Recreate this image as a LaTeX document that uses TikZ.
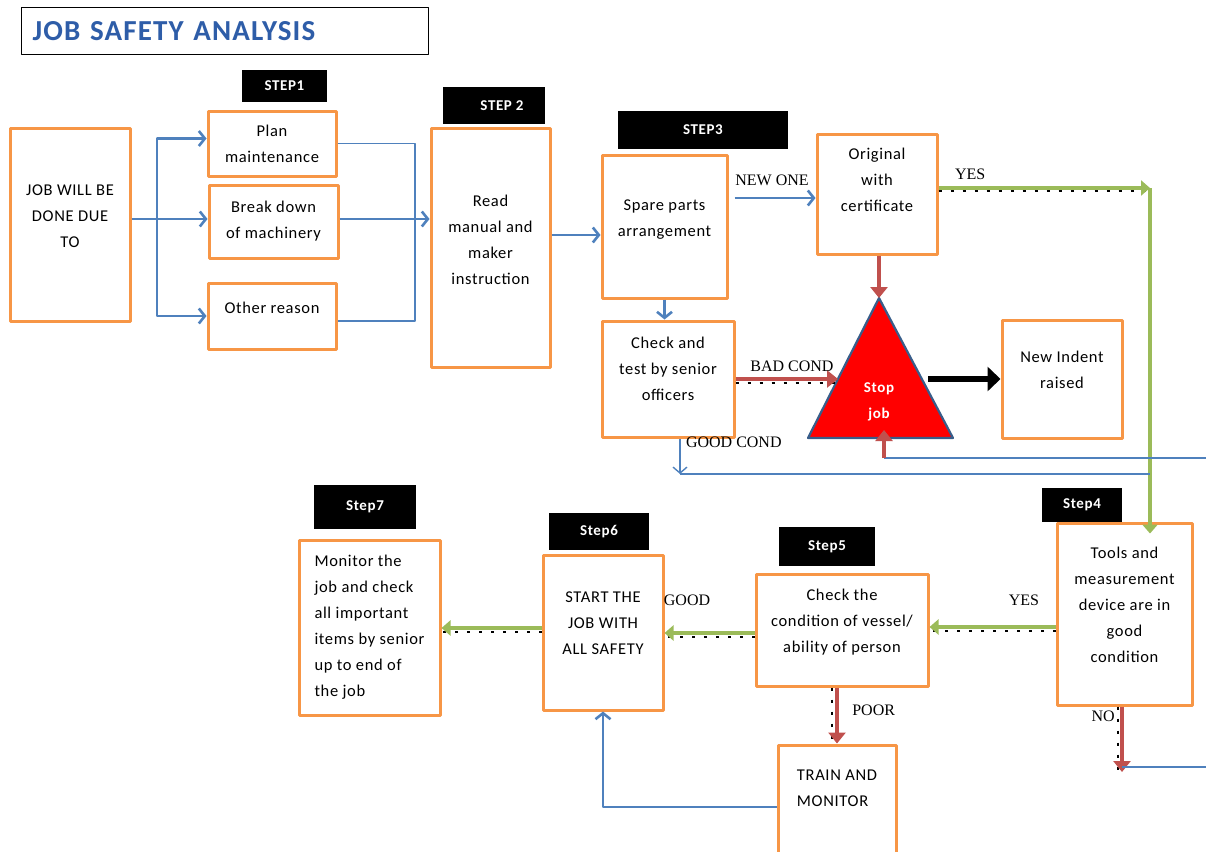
\documentclass[tikz,border=0pt]{standalone}
\usepackage{fontspec}
\setmainfont{Carlito}[LetterSpace=4]
\newfontfamily\lblfont{Liberation Serif}
\usetikzlibrary{arrows.meta}
\definecolor{boxor}{HTML}{F79646}
\definecolor{arblue}{HTML}{4F81BD}
\definecolor{arred}{HTML}{C0504D}
\definecolor{argreen}{HTML}{9BBB59}
\definecolor{triblue}{HTML}{385D8A}
\definecolor{ttlblue}{HTML}{2E5DA8}
\begin{document}
\begin{tikzpicture}[x=1pt,y=-1pt,line join=round,
    box/.style={draw=boxor,line width=3pt,fill=white,align=center,font=\fontsize{16.5}{26}\selectfont},
    tab/.style={fill=black,text=white,font=\bfseries\fontsize{15}{17}\selectfont},
    lbl/.style={font=\lblfont\fontsize{16}{18}\selectfont},
    bl/.style={draw=arblue,line width=2.6pt,-{Straight Barb[length=6pt,width=15pt]}},
    thinl/.style={draw=arblue,line width=1.4pt},
    rd/.style={draw=arred,line width=4pt,-{Triangle[length=11pt,width=17pt]}},
    gr/.style={draw=argreen,line width=4.2pt,-{Triangle[length=9pt,width=15pt]}},
    shd/.style={black,line width=1.8pt,dash pattern=on 3pt off 9pt}]
\useasboundingbox (0,0) rectangle (1206,851);
% title
\node[draw,line width=1.4pt,minimum width=407,minimum height=47,anchor=north west,
      text width=385,align=left,text=ttlblue,font=\bfseries\fontsize{29}{30}\selectfont] (title) at (21,7) {JOB SAFETY ANALYSIS};
% step tabs
\node[tab,minimum width=85,minimum height=32] (s1) at (284.5,86) {STEP1};
\node[tab,minimum width=102,minimum height=37] (s2) at (494,105.5) {\hspace{16pt}STEP 2};
\node[tab,minimum width=170,minimum height=38] (s3) at (703,130) {STEP3};
\node[tab,minimum width=80,minimum height=34] (s4) at (1082,505) {Step4};
\node[tab,minimum width=96,minimum height=39] (s5) at (827,546.5) {Step5\hspace{12pt}};
\node[tab,minimum width=100,minimum height=37] (s6) at (599,531.5) {Step6};
\node[tab,minimum width=102,minimum height=44] (s7) at (365,507) {Step7};
% boxes
\node[box,minimum width=120,minimum height=193] (job) at (70,224.5) {JOB WILL BE\\DONE DUE\\TO\\[-10pt]};
\node[box,minimum width=128,minimum height=65] (plan) at (272,143.5) {Plan\\maintenance};
\node[box,minimum width=129,minimum height=73] (brk) at (273.5,221.5) {Break down\\of machinery};
\node[box,minimum width=128,minimum height=66] (other) at (272,316) {Other reason\\[-10pt]};
\node[box,minimum width=119,minimum height=239] (read) at (490.5,247.5) {Read\\manual and\\maker\\instruction\\[-10pt]};
\node[box,minimum width=125,minimum height=143] (spare) at (664.5,226.5) {Spare parts\\arrangement\\[-10pt]};
\node[box,minimum width=132,minimum height=116] (check) at (668,379) {Check and\\test by senior\\officers\\[-6pt]};
\node[box,minimum width=120,minimum height=120] (orig) at (877,194) {Original\\with\\certificate\\[2pt]};
\node[box,minimum width=120,minimum height=118] (indent) at (1062,379) {New Indent\\raised\\[-8pt]};
\node[box,minimum width=135,minimum height=182] (tools) at (1124.5,614) {Tools and\\measurement\\device are in\\good\\condition\\[-8pt]};
\node[box,minimum width=172,minimum height=112] (cond) at (842,630) {Check the\\condition of vessel/\\ability of person\\[-8pt]};
\node[box,minimum width=120,minimum height=155] (start) at (603,632.5) {START THE\\JOB WITH\\ALL SAFETY\\[-8pt]};
\node[box,minimum width=141,minimum height=175,align=left] (monitor) at (369.5,627.5) {Monitor the\\job and check\\all important\\items by senior\\up to end of\\the job};
\node[box,minimum width=118,minimum height=112,align=left] (train) at (837,801) {TRAIN AND\\MONITOR\\[0pt]};
% stop triangle
\coordinate (apex) at (879,298);
\coordinate (stopL) at (838,379);
\coordinate (stopR) at (928,379);
\coordinate (stopB) at (884,430);
\draw[fill=red,draw=triblue,line width=2.2pt] (apex) -- (953,438) -- (808,438) -- cycle;
\node[text=white,align=center,font=\bfseries\fontsize{15}{26}\selectfont] (stop) at (879,402) {Stop\\job};
% step 1 and 2
\coordinate (split) at (157,219);
\coordinate (mg) at (415,219);
\draw[bl,-] (job.east |- split) -- (split);
\draw[bl] (split) |- ([yshift=5pt]plan.west);
\draw[bl] (split) -- (brk.west |- split);
\draw[bl] (split) |- (other.west);
\draw[thinl] (plan.east) -| (mg) |- ([yshift=-5pt]other.east);
\draw[bl] (brk.east |- split) -- (read.west |- split);
\draw[bl] (read.east |- 0,235) -- (spare.west |- 0,235);
% step 3
\draw[bl] (spare.south) -- (spare.south |- check.north);
\draw[bl,shorten <=6pt] (spare.east |- 0,198) -- (orig.west |- 0,198) node[lbl,above,pos=0.5,yshift=8pt]{NEW ONE};
\coordinate (gc) at (1150,188);
\draw[shd] ([yshift=-3pt]orig.east |- gc) -- ([yshift=-3pt]gc);
\draw[gr] (orig.east |- gc) -- (gc) node[lbl,pos=0.15,above,yshift=3pt]{YES};
\draw[gr] (gc) -- ([yshift=-12pt]gc |- tools.north);
\draw[rd] (orig.south -| apex) -- (apex);
\draw[shd] ([yshift=-4pt]check.east) -- ([yshift=-4pt]stopL);
\draw[rd] (check.east) -- (stopL) node[lbl,above,pos=0.55,yshift=2pt]{BAD COND};
\draw[black,line width=6pt,-{Triangle[length=13pt,width=24pt]}] (stopR) -- (indent.west);
\coordinate (gd) at (680,474);
\draw[thinl,-{Straight Barb[length=6pt,width=14pt]}] (check.south -| gd) -- (gd) node[lbl,pos=0.12,right,xshift=2pt]{GOOD COND};
\draw[thinl] (gd) -- (gd -| gc);
\coordinate (fb) at (884,458);
\coordinate (fbend) at (1206,458);
\draw[thinl] (fb) -- (fbend);
\draw[rd,line width=3.5pt] (fb) -- (stopB);
% step 4 to 7
\draw[shd] ([yshift=-4pt]tools.west |- 0,627) -- ([yshift=-4pt]cond.east |- 0,627);
\draw[gr] (tools.west |- 0,627) -- (cond.east |- 0,627) node[lbl,pos=0.25,above,yshift=16pt]{YES};
\draw[shd] ([yshift=-4pt]cond.west |- 0,633) -- ([yshift=-4pt]start.east |- 0,633);
\draw[gr] (cond.west |- 0,633) -- (start.east |- 0,633) node[lbl,pos=0.75,above,yshift=22pt]{GOOD};
\draw[shd] ([yshift=-4pt]start.west |- 0,628) -- ([yshift=-4pt]monitor.east |- 0,628);
\draw[gr] (start.west |- 0,628) -- (monitor.east |- 0,628);
\draw[shd] ([xshift=-5pt]cond.south -| train.north) -- ([xshift=-5pt]train.north);
\draw[rd] (cond.south -| train.north) -- (train.north) node[lbl,pos=0.4,right,xshift=10pt]{POOR};
\draw[bl] (train.west |- 0,807) -| (start.south);
\coordinate (nd) at (1122,772);
\coordinate (ndend) at (1206,767);
\draw[shd] ([xshift=-4pt]tools.south -| nd) -- ([xshift=-4pt]nd);
\draw[rd] (tools.south -| nd) -- (nd) node[lbl,pos=0.15,left,xshift=-2pt]{NO};
\draw[thinl] (nd |- ndend) -- (ndend);
\end{tikzpicture}
\end{document}
